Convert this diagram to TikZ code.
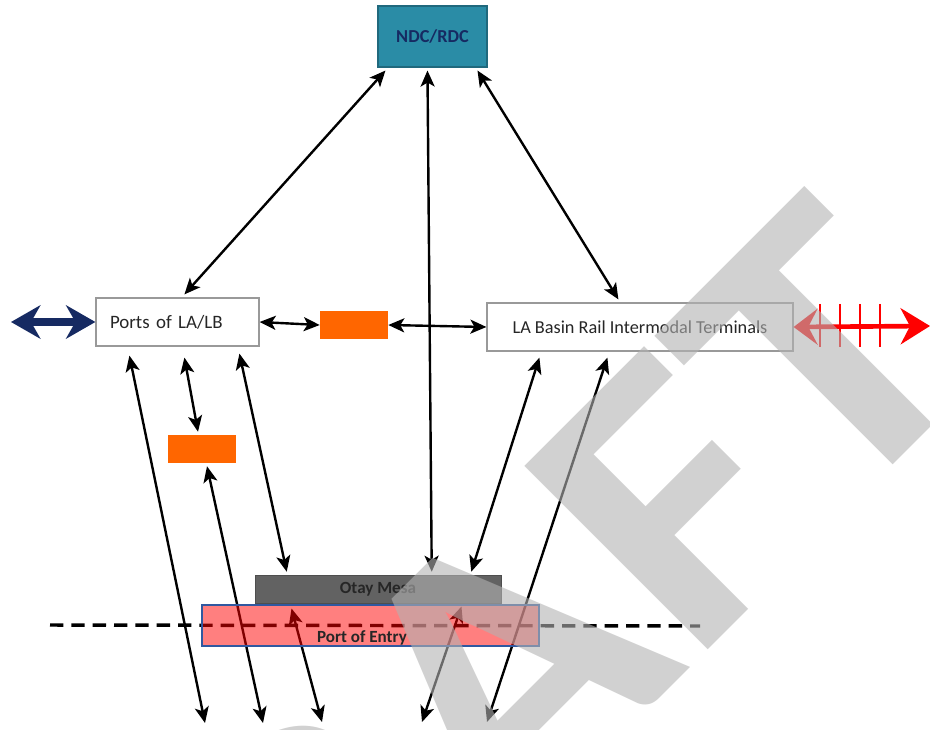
\documentclass[tikz,border=0pt]{standalone}
\usepackage{fontspec}
\setmainfont{Carlito}
\usetikzlibrary{calc,arrows.meta,backgrounds}
\definecolor{ndcblue}{RGB}{42,140,166}
\definecolor{navy}{RGB}{22,42,98}
\definecolor{hubor}{RGB}{255,102,0}
\definecolor{otaygray}{RGB}{98,98,98}
\definecolor{poeblue}{RGB}{48,88,160}

\begin{document}
\begin{tikzpicture}[
	x=0.75pt,y=-0.75pt,
	box/.style={draw=black!40,line width=0.9pt,fill=white,inner ysep=0pt,minimum height=36pt,align=left,text=black!85,font=\fontsize{14.2}{17}\selectfont},
	hub/.style={fill=hubor,inner sep=0pt,minimum width=51pt,minimum height=21pt},
	link/.style={line width=1.8pt,arrows={Stealth[length=12pt,width=10.5pt,inset=3pt]-Stealth[length=12pt,width=10.5pt,inset=3pt]}},
	frontier/.style={line width=2.6pt,dash pattern=on 10pt off 6pt},
	draft/.style={inner sep=0pt,text=black!30,text opacity=0.6,font=\bfseries\fontsize{300}{300}\selectfont}
]
\useasboundingbox (0,0) rectangle (930,730);
\node[draw=ndcblue!75!black,fill=ndcblue,line width=0.8pt,minimum width=81.75pt,minimum height=45.75pt,inner sep=0pt,text=navy,font=\bfseries\fontsize{13.7}{16}\selectfont] (ndc) at (432.5,36.5) {\raisebox{-3pt}{NDC/RDC}};
\node[box,inner xsep=10.5pt,text width=101.25pt] (ports) at (177.5,322) {Ports of LA/LB};
\node[box,minimum width=229.5pt,font=\fontsize{13.7}{17}\selectfont] (rail) at (640,327) {LA Basin Rail Intermodal Terminals};
\node[hub] (h1) at (354,325) {};
\node[hub] (h2) at (202,449) {};
\node[fill=otaygray,draw=otaygray!80!black,minimum width=184.5pt,minimum height=21pt,inner sep=0pt,text=black!85,font=\bfseries\fontsize{12.8}{15}\selectfont] (otay) at (378,589) {Otay Mesa};
\node[fill=red,fill opacity=0.5,draw=poeblue,line width=2.2pt,minimum width=252.75pt,minimum height=30.75pt,inner sep=0pt,label={[text opacity=1,fill opacity=1,xshift=-6.4pt,yshift=-9.4pt,text=black!85,font=\bfseries\fontsize{12.8}{15}\selectfont]center:Port of Entry}] (poe) at (370.5,625.5) {};
\coordinate (west) at (11,322);
\coordinate (east) at (930,326);
\coordinate (d1) at (205,723);
\coordinate (d2) at (263,723);
\coordinate (d3) at (322,722);
\coordinate (d4) at (422,722);
\coordinate (d5) at (487,722);
\begin{scope}[on background layer]
\draw[frontier] (50,625) -- (700,626);
\draw[link] ($(ndc.south west)+(8,3)$) -- ($(ports.north west)+(89,-3)$);
\draw[link] ($(ndc.south west)+(50,3)$) -- ($(otay.north west)+(177,-3)$);
\draw[link] ($(ndc.south west)+(100,3)$) -- ($(rail.north west)+(132,-3)$);
\draw[link] (ports.east) -- (h1.west);
\draw[link] (h1.east) -- (rail.west);
\draw[link] ($(ports.south west)+(34,9)$) -- (d1);
\draw[link] ($(ports.south west)+(89,11)$) -- ($(h2.north)+(-4,-3)$);
\draw[link] ($(h2.south)+(5,3)$) -- (d2);
\draw[link] ($(ports.south west)+(144,7)$) -- ($(otay.north west)+(32,-3)$);
\draw[link] ($(poe.north west)+(91,5)$) -- (d3);
\draw[link] ($(poe.north east)+(-79,3)$) -- (d4);
\draw[link] ($(rail.south west)+(53,6)$) -- ($(otay.north east)+(-30,-3)$);
\draw[link] ($(rail.south west)+(121,6)$) -- (d5);
\end{scope}
\draw[navy,line width=6pt,arrows={Stealth[length=22pt,width=25pt,inset=7pt]-Stealth[length=22pt,width=25pt,inset=7pt]}] (west) -- (ports.west);
\draw[red,line width=3.5pt,arrows={Stealth[length=18pt,width=27pt,inset=7pt]-Stealth[length=22pt,width=27pt,inset=7pt]}] (rail.east) -- (east);
\foreach \x in {820,840,860,880}
	\draw[red,line width=1.8pt] (\x,304) -- (\x,347);
\begin{scope}
\clip (0,0) rectangle (930,730);
\node[draft,rotate=45,xscale=1.11,anchor=base east] (wm) at (991,367) {DRAFT};
\end{scope}
\end{tikzpicture}
\end{document}
